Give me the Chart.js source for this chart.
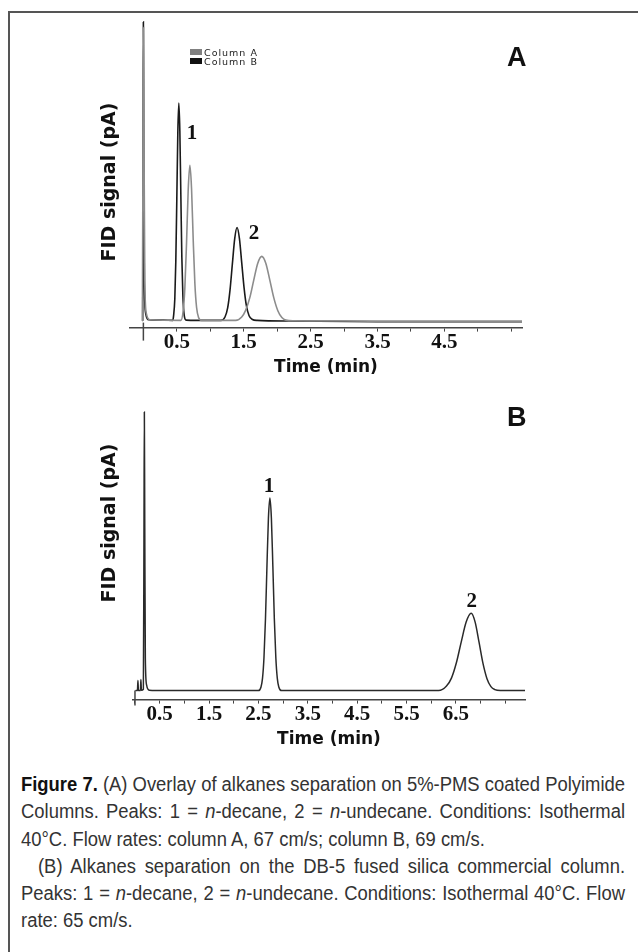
<!DOCTYPE html>
<html>
<head>
<meta charset="utf-8">
<script src="https://cdn.jsdelivr.net/npm/chart.js@4.4.1/dist/chart.umd.min.js"></script>
<style>
  html, body { margin: 0; padding: 0; background: #fff; }
  body { width: 638px; height: 952px; position: relative; overflow: hidden; }
  #frame { position: absolute; left: 8px; top: 11px; width: 640px; height: 950px;
           border-top: 2px solid #555; border-left: 2px solid #555; }
  canvas { position: absolute; left: 0; }
  #chartA { top: 0; }
  #chartB { top: 380px; }
  .ytitle { position: absolute; width: 220px; height: 22px; line-height: 22px; text-align: center;
            font: bold 19px "DejaVu Sans"; color: #111; transform: rotate(-90deg); }
  .panel { position: absolute; font: bold 27px "Liberation Sans"; line-height: 27px; color: #111; }
  #legend { position: absolute; left: 190px; top: 48px; font: 9.5px "DejaVu Sans"; letter-spacing: 1px; color: #222; }
  #legend div { height: 9px; line-height: 9px; white-space: nowrap; }
  #legend span { display: inline-block; width: 12px; height: 6px; margin-right: 2px; vertical-align: 1px; }
  #caption { position: absolute; left: 21px; top: 771px; width: 2000px; transform-origin: 0 0;
             font-family: "Liberation Sans", sans-serif;
             font-size: 19.5px; line-height: 27.3px; color: #333; }
  #caption div { white-space: nowrap; }
  #caption .ln { text-align: justify; text-align-last: justify; }
  #caption.measure .ln { text-align-last: left; }
  #caption b { color: #111; }
</style>
</head>
<body>
<div id="frame"></div>
<canvas id="chartA" width="638" height="378"></canvas>
<canvas id="chartB" width="638" height="370"></canvas>
<div class="ytitle" style="left:-2px; top:171px;">FID signal (pA)</div>
<div class="ytitle" style="left:-2px; top:512px;">FID signal (pA)</div>
<div class="panel" style="left:507px; top:44px;">A</div>
<div class="panel" style="left:507px; top:404px;">B</div>
<div id="legend"></div>
<div id="caption" class="measure">
  <div class="ln"><span class="in"><b>Figure 7.</b> (A) Overlay of alkanes separation on 5%-PMS coated Polyimide</span></div>
  <div class="ln"><span class="in">Columns. Peaks: 1 = <i>n</i>-decane, 2 = <i>n</i>-undecane. Conditions: Isothermal</span></div>
  <div><span class="in">40°C. Flow rates: column A, 67 cm/s; column B, 69 cm/s.</span></div>
  <div class="ln ind"><span class="in">(B) Alkanes separation on the DB-5 fused silica commercial column.</span></div>
  <div class="ln"><span class="in">Peaks: 1 = <i>n</i>-decane, 2 = <i>n</i>-undecane. Conditions: Isothermal 40°C. Flow</span></div>
  <div><span class="in">rate: 65 cm/s.</span></div>
</div>
<script>
// panel A: overlay, two columns (time in min, signal in arbitrary units 0-100)
const seriesNames = ['Column A', 'Column B'];
const colA_time = [-0.015, -0.006, 0.002, 0.010, 0.022, 0.045, 0.10, 0.56, 0.595, 0.62, 0.645, 0.67, 0.695, 0.72, 0.745, 0.77, 0.795, 0.825, 0.87,
  1.38, 1.47, 1.53, 1.59, 1.65, 1.71, 1.77, 1.83, 1.89, 1.95, 2.01, 2.07, 2.13, 2.25, 3.0, 4.0, 5.66];
const colA_signal = [2.3, 55, 96, 58, 14, 4.5, 2.5, 2.3, 5.4, 12.7, 27, 44, 51.9, 44.5, 28, 14, 6.5, 3.2, 2.3,
  2.3, 3.4, 5.6, 9.5, 15.2, 20.6, 22.8, 20.6, 15.2, 9.5, 5.4, 3.2, 2.4, 2.2, 2.1, 2.0, 2.0];
const colB_time = [-0.01, -0.004, 0.0, 0.005, 0.014, 0.035, 0.08, 0.3, 0.44, 0.45, 0.47, 0.485, 0.50, 0.515, 0.53, 0.545, 0.56, 0.575, 0.59, 0.61, 0.64,
  0.8, 1.16, 1.22, 1.26, 1.295, 1.33, 1.365, 1.40, 1.435, 1.47, 1.505, 1.54, 1.58, 1.63, 1.70, 2.2, 3.5, 5.66];
const colB_signal = [2.3, 55, 97.8, 60, 15, 4.5, 2.5, 2.4, 2.3, 3.5, 9.3, 21.4, 41.4, 62.5, 71.8, 63, 42.5, 22.5, 10.5, 4, 2.4,
  2.3, 2.3, 3.4, 6.3, 12, 20.3, 28.4, 32, 28.6, 20.8, 12.8, 7, 3.8, 2.6, 2.3, 2.1, 1.9, 1.9];

// panel B: DB-5 commercial column
const db5_time = [0.02, 0.05, 0.06, 0.07, 0.11, 0.12, 0.13, 0.17, 0.182, 0.19, 0.198, 0.21, 0.235, 0.29, 0.6,
  2.50, 2.553, 2.583, 2.613, 2.643, 2.673, 2.703, 2.733, 2.763, 2.793, 2.823, 2.853, 2.883, 2.913, 2.97,
  6.15, 6.31, 6.41, 6.51, 6.61, 6.71, 6.81, 6.89, 6.97, 7.05, 7.13, 7.21, 7.29, 7.4, 7.9];
const db5_signal = [3.06, 3.1, 6.5, 3.1, 3.1, 6.8, 3.2, 3.5, 55, 97.6, 60, 14, 5, 3.2, 3.06,
  3.06, 4.3, 7.2, 14.3, 27.3, 45.2, 61.6, 68.4, 61.6, 45.2, 27.3, 14.3, 7.2, 4.3, 3.06,
  3.06, 4.6, 7.3, 12.5, 19.7, 26.4, 29.3, 26.3, 19.4, 12.2, 7.1, 4.4, 3.4, 3.1, 3.06];

const tickLabelsA = ['0.5', '1.5', '2.5', '3.5', '4.5'];
const tickLabelsB = ['0.5', '1.5', '2.5', '3.5', '4.5', '5.5', '6.5'];
const peakNames = ['1', '2'];
const peakLabelTimeA = [0.725, 1.652];
const peakLabelSignalA = [62.2, 30.1];
const peakLabelTimeB = [2.713, 6.822];
const peakLabelSignalB = [72.4, 33.3];

const colors = ['#8c8c8c', '#1a1a1a'];

// legend for panel A
const legend = document.getElementById('legend');
seriesNames.forEach((name, i) => {
  const row = document.createElement('div');
  row.innerHTML = '<span style="background:' + (i === 0 ? '#808080' : '#111') + '"></span>' + name;
  legend.appendChild(row);
});

// caption: narrow the text so the longest justified line fills 604px
function fitCaption() {
  const cap = document.getElementById('caption');
  const target = 604, indent = 17;
  let maxW = 0;
  cap.querySelectorAll('.ln').forEach(d => {
    let w = d.querySelector('.in').getBoundingClientRect().width;
    if (d.classList.contains('ind')) w += indent;
    maxW = Math.max(maxW, w);
  });
  const s = target / maxW;
  cap.style.width = (target / s) + 'px';
  cap.style.transform = 'scaleX(' + s + ')';
  cap.querySelector('.ind').style.textIndent = (indent / s) + 'px';
  cap.classList.remove('measure');
}
fitCaption();

function toPoints(t, s) {
  return t.map((v, i) => ({ x: v, y: s[i] }));
}

const peakLabelPlugin = {
  id: 'peakLabels',
  afterDatasetsDraw(chart, args, opts) {
    const { ctx, scales: { x, y } } = chart;
    ctx.save();
    ctx.font = 'bold 21px "Liberation Serif"';
    ctx.fillStyle = '#111';
    ctx.textAlign = 'center';
    ctx.textBaseline = 'middle';
    opts.text.forEach((txt, i) => {
      ctx.fillText(txt, x.getPixelForValue(opts.t[i]), y.getPixelForValue(opts.v[i]));
    });
    ctx.restore();
  }
};

// the taller mark at t = 0 on the time axis
const originTickPlugin = {
  id: 'originTick',
  afterDraw(chart, args, opts) {
    const { ctx, chartArea, scales: { x } } = chart;
    const px = x.getPixelForValue(0);
    ctx.save();
    ctx.strokeStyle = '#444';
    ctx.lineWidth = 1.5;
    ctx.beginPath();
    ctx.moveTo(px, chartArea.bottom - opts.up);
    ctx.lineTo(px, chartArea.bottom + opts.down);
    ctx.stroke();
    ctx.restore();
  }
};

function makeChart(id, datasets, xmin, xmax, tickLabels, pad, peaks, origin) {
  return new Chart(document.getElementById(id), {
    type: 'line',
    data: { datasets: datasets },
    plugins: [peakLabelPlugin, originTickPlugin],
    options: {
      responsive: false,
      animation: false,
      events: [],
      layout: { padding: pad },
      elements: { point: { radius: 0 }, line: { cubicInterpolationMode: 'monotone', borderCapStyle: 'round' } },
      plugins: {
        legend: { display: false },
        tooltip: { enabled: false },
        peakLabels: peaks,
        originTick: origin
      },
      scales: {
        x: {
          type: 'linear',
          min: xmin,
          max: xmax,
          grid: { display: true, drawOnChartArea: false, drawTicks: true, tickLength: 4, color: '#444', tickWidth: 1 },
          border: { display: true, color: '#444', width: 1.5 },
          ticks: {
            stepSize: 0.5,
            includeBounds: false,
            autoSkip: false,
            maxRotation: 0,
            padding: 0,
            color: '#111',
            font: { family: 'Liberation Serif', weight: 'bold', size: 21, lineHeight: 1 },
            callback: (value) => {
              const s = Number(value).toFixed(1);
              return tickLabels.includes(s) ? s : '';
            }
          },
          title: {
            display: true,
            text: 'Time (min)',
            color: '#111',
            font: { family: 'DejaVu Sans', weight: 'bold', size: 17, lineHeight: 1.2 },
            padding: { top: 5, bottom: 0 }
          }
        },
        y: { display: false, min: 0, max: 100 }
      }
    }
  });
}

makeChart('chartA', [
  { label: seriesNames[0], data: toPoints(colA_time, colA_signal), borderColor: colors[0], borderWidth: 1.6 },
  { label: seriesNames[1], data: toPoints(colB_time, colB_signal), borderColor: colors[1], borderWidth: 1.6 }
], -0.2, 5.66, tickLabelsA, { left: 130, right: 116, top: 15, bottom: 0 },
  { text: peakNames, t: peakLabelTimeA, v: peakLabelSignalA }, { up: 5, down: 13 });

makeChart('chartB', [
  { label: 'DB-5', data: toPoints(db5_time, db5_signal), borderColor: '#2a2a2a', borderWidth: 1.5 }
], -0.04, 7.9, tickLabelsB, { left: 133, right: 113, top: 25, bottom: 0 },
  { text: peakNames, t: peakLabelTimeB, v: peakLabelSignalB }, { up: 9, down: 6 });
</script>
</body>
</html>
